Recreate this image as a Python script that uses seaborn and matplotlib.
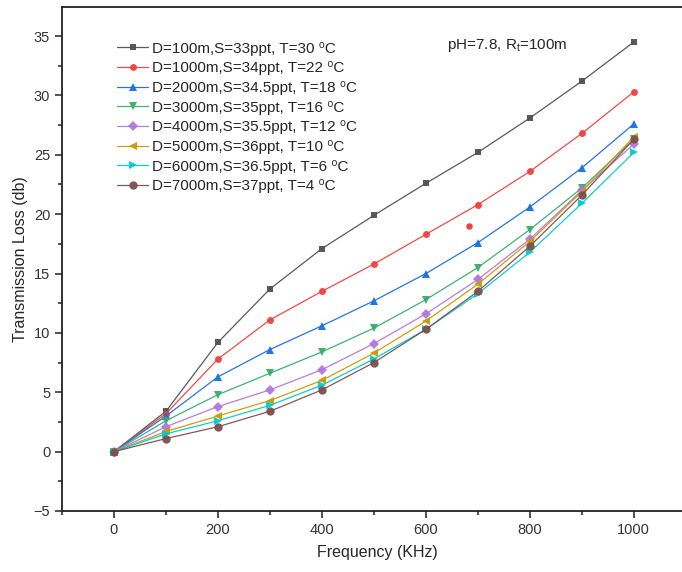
import numpy as np
import pandas as pd
import matplotlib
matplotlib.use("Agg")
import matplotlib.pyplot as plt
import seaborn as sns

# Frequency (KHz)
freq = [0, 100, 200, 300, 400, 500, 600, 700, 800, 900, 1000]

# Transmission loss (db) per depth
tl_100 = [0, 3.4, 9.2, 13.7, 17.1, 19.9, 22.6, 25.2, 28.1, 31.2, 34.5]
tl_1000 = [0, 3.2, 7.8, 11.1, 13.5, 15.8, 18.3, 20.8, 23.6, 26.8, 30.3]
tl_2000 = [0, 3.0, 6.3, 8.6, 10.6, 12.7, 15.0, 17.6, 20.6, 23.9, 27.6]
tl_3000 = [0, 2.6, 4.8, 6.6, 8.4, 10.4, 12.8, 15.5, 18.7, 22.2, 26.3]
tl_4000 = [0, 2.1, 3.8, 5.2, 6.9, 9.1, 11.6, 14.5, 17.9, 22.0, 25.9]
tl_5000 = [0, 1.7, 3.0, 4.3, 6.0, 8.3, 11.0, 14.1, 17.7, 21.9, 26.5]
tl_6000 = [0, 1.5, 2.6, 3.9, 5.6, 7.8, 10.3, 13.3, 16.8, 20.9, 25.2]
tl_7000 = [0, 1.1, 2.1, 3.4, 5.2, 7.5, 10.3, 13.5, 17.3, 21.6, 26.3]

# stray point of the 1000 m series
stray_x = [683]
stray_y = [19.0]

labels = [
    "D=100m,S=33ppt, T=30 \u2070C",
    "D=1000m,S=34ppt, T=22 \u2070C",
    "D=2000m,S=34.5ppt, T=18 \u2070C",
    "D=3000m,S=35ppt, T=16 \u2070C",
    "D=4000m,S=35.5ppt, T=12 \u2070C",
    "D=5000m,S=36ppt, T=10 \u2070C",
    "D=6000m,S=36.5ppt, T=6 \u2070C",
    "D=7000m,S=37ppt, T=4 \u2070C",
]
series = [tl_100, tl_1000, tl_2000, tl_3000, tl_4000, tl_5000, tl_6000, tl_7000]
colors = ["#515151", "#F14040", "#1A6FDF", "#37AD6B", "#B177DE", "#CC9900", "#00CBCC", "#7D4E4E"]
markers = ["s", "o", "^", "v", "D", "<", ">", "o"]
msizes = [5, 5, 6, 6, 5, 6, 6, 6]

sns.set_style("ticks")
plt.rcParams["font.family"] = ["Liberation Sans", "DejaVu Sans"]
plt.rcParams["mathtext.fontset"] = "custom"
plt.rcParams["mathtext.rm"] = "Liberation Sans"
plt.rcParams["mathtext.it"] = "Liberation Sans:italic"

fig = plt.figure(figsize=(6.82, 5.72), dpi=100)
ax = fig.add_axes([62 / 682, 61 / 572, 630 / 682, 504 / 572])

for lab, vals, c, m, ms in zip(labels, series, colors, markers, msizes):
    df = pd.DataFrame({"freq": freq, "tl": vals})
    sns.lineplot(data=df, x="freq", y="tl", ax=ax, color=c, marker=m, markersize=ms,
                 markeredgewidth=0, linewidth=0.9, alpha=0.95, label=lab)

sns.scatterplot(x=stray_x, y=stray_y, ax=ax, color=colors[1], s=22, linewidth=0, legend=False)

ax.set_xlim(-100, 1112)
ax.set_ylim(-5, 37.45)
ax.set_xticks([0, 200, 400, 600, 800, 1000])
ax.set_xticks(np.arange(-100, 1101, 100), minor=True)
ax.set_yticks(np.arange(-5, 36, 5))
ax.set_yticks(np.arange(-5, 37.5, 2.5), minor=True)
ax.tick_params(axis="both", which="major", direction="out", length=5, width=1.2, labelsize=10.5, colors="#333333")
ax.tick_params(axis="both", which="minor", direction="out", length=3, width=1.2, colors="#333333")
for sp in ax.spines.values():
    sp.set_linewidth(1.3)
    sp.set_color("#222222")

ax.set_xlabel("Frequency (KHz)", fontsize=11.5, labelpad=6)
ax.set_ylabel("Transmission Loss (db)", fontsize=11.5, labelpad=4)

ax.text(640, 34.2, "pH=7.8, R$_{\\rm t}$=100m", fontsize=11, ha="left", va="center")

ax.legend(loc="upper left", bbox_to_anchor=(0.078, 0.943), frameon=False, fontsize=11,
          labelspacing=0.37, handlelength=2.0, handletextpad=0.3, borderaxespad=0)

fig.savefig("out.png", dpi=100)
